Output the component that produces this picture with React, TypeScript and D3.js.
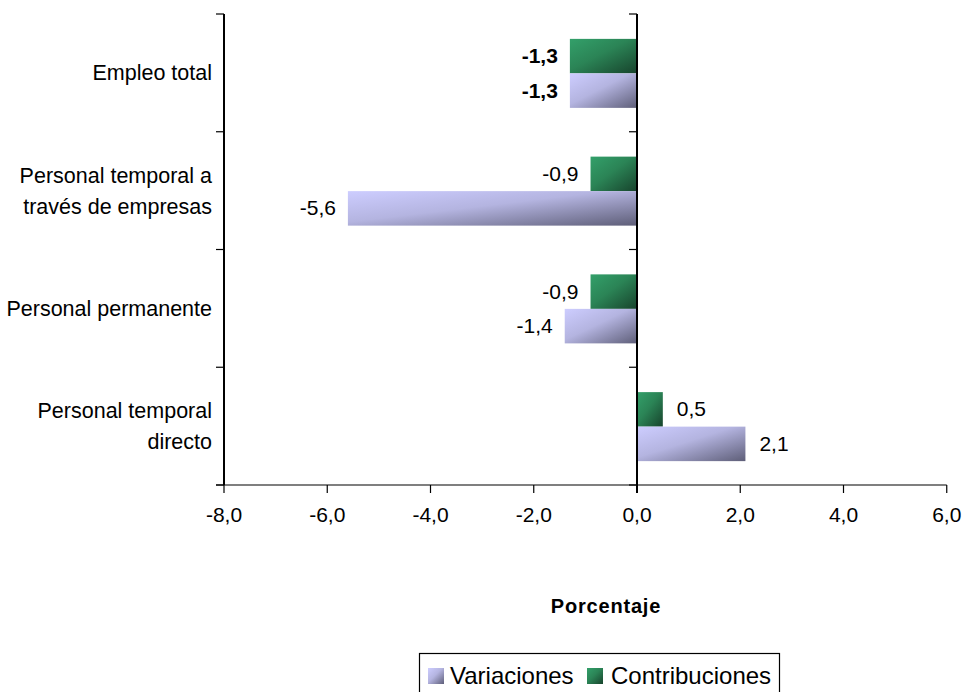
import React from "react";
import * as d3 from "d3";

const categories = [
  "Empleo total",
  "Personal temporal a\ntravés de empresas",
  "Personal permanente",
  "Personal temporal\ndirecto",
];
const variaciones = [-1.3, -5.6, -1.4, 2.1];
const contribuciones = [-1.3, -0.9, -0.9, 0.5];
const boldCategory = [true, false, false, false];
const xTicks = [-8, -6, -4, -2, 0, 2, 4, 6];
const seriesNames = ["Variaciones", "Contribuciones"];

const W = 966;
const H = 692;
const FONT = "'Liberation Sans', Arial, sans-serif";

const fmt = (v: number) => v.toFixed(1).replace(".", ",");

export default function App() {
  const x = d3.scaleLinear().domain([-8, 6]).range([224, 946.75]);
  const y = d3.scaleBand<string>().domain(categories).range([14, 485]).paddingInner(0).paddingOuter(0);
  const bw = y.bandwidth();
  const barH = bw * 0.293;
  const x0 = x(0);

  const bars: any[] = [];
  const labels: any[] = [];
  categories.forEach((c, i) => {
    const center = (y(c) as number) + bw / 2 + 0.5;
    const rows = [
      { v: contribuciones[i], top: center - barH, fill: "url(#gGreen)", key: "c" },
      { v: variaciones[i], top: center, fill: "url(#gPurple)", key: "v" },
    ];
    rows.forEach((r) => {
      const xa = Math.min(x(r.v), x0);
      const xb = Math.max(x(r.v), x0);
      bars.push(
        <rect key={`b${i}${r.key}`} x={xa} y={r.top} width={xb - xa} height={barH} fill={r.fill} />
      );
      const neg = r.v < 0;
      labels.push(
        <text
          key={`l${i}${r.key}`}
          x={neg ? x(r.v) - 12 : x(r.v) + 14}
          y={r.top + barH / 2 + 7}
          textAnchor={neg ? "end" : "start"}
          fontWeight={boldCategory[i] ? "bold" : "normal"}
          fontSize={21}
          fontFamily={FONT}
          fill="#000"
        >
          {fmt(r.v)}
        </text>
      );
    });
  });

  const boundaries = [...categories.map((c) => y(c) as number), 485];

  return (
    <svg
      width={W}
      height={H}
      style={{ position: "absolute", left: 0, top: 0, background: "#fff" }}
      fontFamily={FONT}
    >
      <defs>
        <linearGradient id="gPurple" x1="0" y1="0" x2="1" y2="1">
          <stop offset="0" stopColor="#cdcdff" />
          <stop offset="0.45" stopColor="#b4b4e0" />
          <stop offset="1" stopColor="#5e5e78" />
        </linearGradient>
        <linearGradient id="gGreen" x1="0" y1="0" x2="1" y2="1">
          <stop offset="0" stopColor="#33a06a" />
          <stop offset="0.45" stopColor="#2b8456" />
          <stop offset="1" stopColor="#17432c" />
        </linearGradient>
      </defs>
      <rect x={0} y={0} width={W} height={H} fill="#fff" />

      {bars}

      {/* left axis */}
      <line x1={224} x2={224} y1={14} y2={485} stroke="#000" strokeWidth={2} />
      {boundaries.map((b, i) => (
        <line key={`lt${i}`} x1={216} x2={224} y1={b} y2={b} stroke="#000" strokeWidth={1.2} />
      ))}
      {/* zero line */}
      <line x1={x0} x2={x0} y1={14} y2={493} stroke="#000" strokeWidth={2} />
      {boundaries.map((b, i) => (
        <line key={`zt${i}`} x1={x0 - 8} x2={x0} y1={b} y2={b} stroke="#000" strokeWidth={1.2} />
      ))}
      {/* bottom axis */}
      <line x1={216} x2={946.75} y1={485} y2={485} stroke="#000" strokeWidth={1.2} />
      {xTicks.map((t) => (
        <g key={`xt${t}`}>
          <line x1={x(t)} x2={x(t)} y1={485} y2={493} stroke="#000" strokeWidth={1.2} />
          <text x={x(t)} y={522} textAnchor="middle" fontSize={21} fill="#000">
            {fmt(t)}
          </text>
        </g>
      ))}

      {/* category labels */}
      {categories.map((c, i) => {
        const lines = c.split("\n");
        const center = (y(c) as number) + bw / 2;
        const lh = 31;
        const first = center + 7.5 - ((lines.length - 1) * lh) / 2;
        return (
          <text key={`c${i}`} textAnchor="end" fontSize={21.5} fill="#000">
            {lines.map((ln, j) => (
              <tspan key={j} x={212} y={first + j * lh}>
                {ln}
              </tspan>
            ))}
          </text>
        );
      })}

      {labels}

      {/* axis title */}
      <text x={606} y={613} textAnchor="middle" fontSize={20} fontWeight="bold" letterSpacing={0.8} fill="#000">
        Porcentaje
      </text>

      {/* legend */}
      <rect x={419.5} y={653.5} width={360} height={60} fill="#fff" stroke="#000" strokeWidth={1.2} />
      <rect x={428} y={668} width={16} height={16} fill="url(#gPurple)" />
      <text x={450} y={684} fontSize={24} fill="#000">
        {seriesNames[0]}
      </text>
      <rect x={587} y={668} width={16} height={16} fill="url(#gGreen)" />
      <text x={611} y={684} fontSize={24} fill="#000">
        {seriesNames[1]}
      </text>
    </svg>
  );
}
